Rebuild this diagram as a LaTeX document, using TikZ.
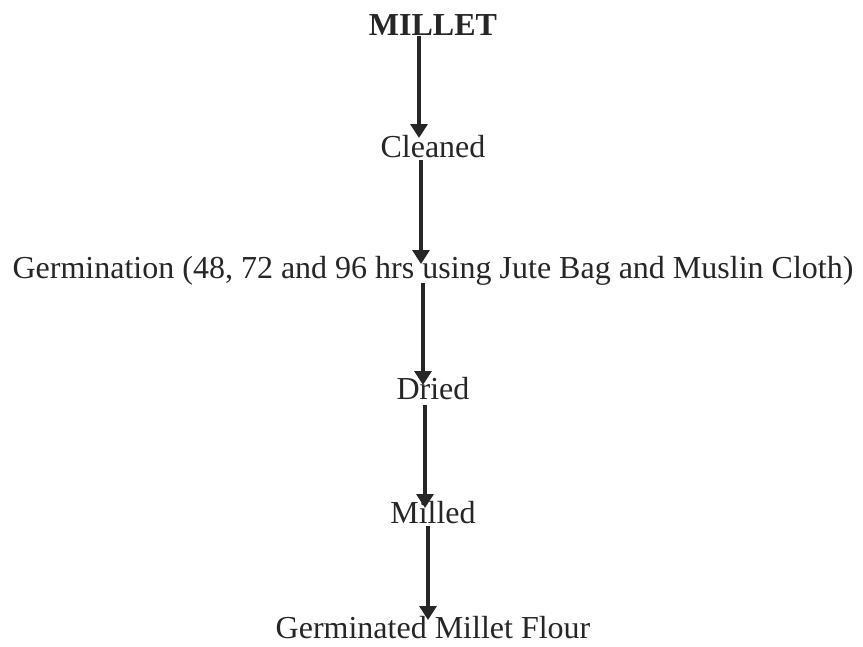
\documentclass[tikz,border=0pt]{standalone}
\usepackage{fontspec}
\setmainfont{Liberation Serif}
\usetikzlibrary{arrows.meta}
\begin{document}
\begin{tikzpicture}[x=1pt,y=-1pt,
  lbl/.style={inner sep=0pt,font=\fontsize{32}{36}\selectfont,text=black!85},
  flow/.style={line width=3.2pt,draw=black!85,-{Triangle[width=17pt,length=14pt]}}]
\useasboundingbox (0,0) rectangle (863,646);
\node[lbl,font=\fontsize{32}{36}\selectfont\bfseries] (millet) at (433,25) {MILLET};
\node[lbl] (cleaned) at (433,147) {Cleaned};
\node[lbl] (germ) at (433,271) {Germination (48, 72 and 96 hrs using Jute Bag and Muslin Cloth)};
\node[lbl] (dried) at (433,389) {Dried};
\node[lbl] (milled) at (433,513) {Milled};
\node[lbl] (flour) at (433,628) {Germinated Millet Flour};
\coordinate (a1s) at (419,36);  \coordinate (a1e) at (419,138);
\coordinate (a2s) at (421,160); \coordinate (a2e) at (421,264);
\coordinate (a3s) at (423,283); \coordinate (a3e) at (423,385);
\coordinate (a4s) at (425,405); \coordinate (a4e) at (425,508);
\coordinate (a5s) at (428,526); \coordinate (a5e) at (428,620);
\draw[flow] (a1s) -- (a1e);
\draw[flow] (a2s) -- (a2e);
\draw[flow] (a3s) -- (a3e);
\draw[flow] (a4s) -- (a4e);
\draw[flow] (a5s) -- (a5e);
\end{tikzpicture}
\end{document}
